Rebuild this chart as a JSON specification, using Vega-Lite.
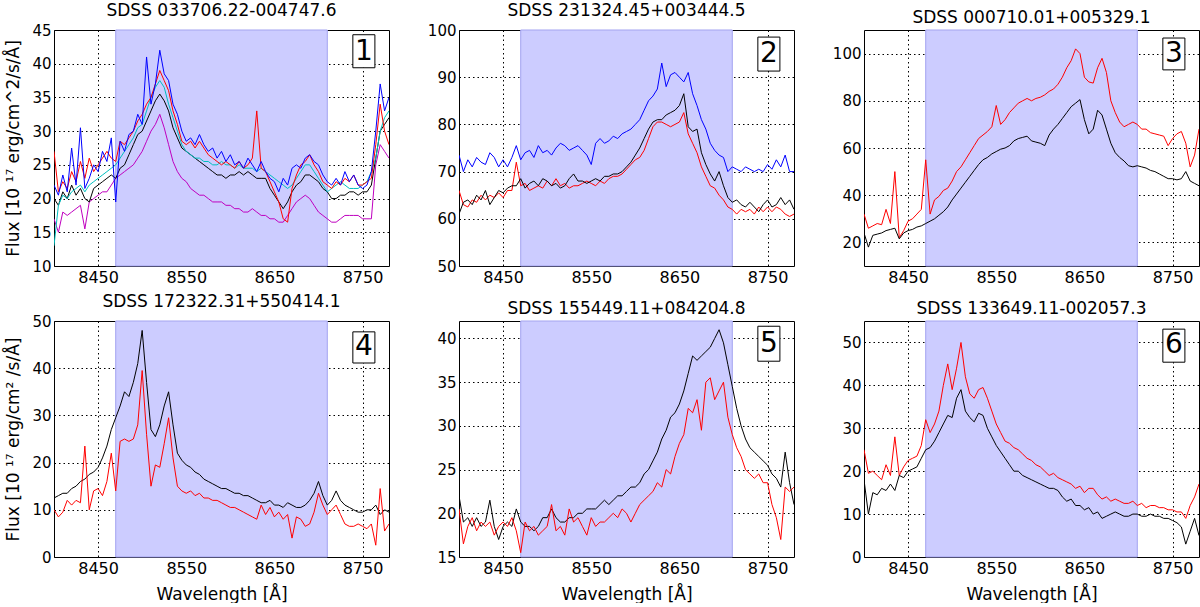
{
  "$schema": "https://vega.github.io/schema/vega-lite/v6.json",
  "description": "Six SDSS spectra around the Ca II triplet region",
  "padding": {"left": 3, "top": 1, "right": 0, "bottom": 0},
  "background": "white",
  "vconcat": [
    {
      "hconcat": [
        {
          "width": 335, "height": 236,
          "title": "SDSS 033706.22-004747.6",
          "layer": [
            {"data": {"values": [{}]}, "mark": {"type": "rect", "fill": "#ccccff", "stroke": "#a3a3f0", "strokeWidth": 1},
             "encoding": {"x": {"datum": 8470, "type": "quantitative", "scale": {"domain": [8400, 8780], "nice": false, "zero": false}, "axis": {"values": [8450, 8550, 8650, 8750], "format": "d", "title": null}}, "x2": {"datum": 8710}}},
            {"data": {"values": [
              {"w":8400,"b":22,"r":27,"k":20,"c":13,"m":17},
              {"w":8405,"b":20.5,"r":21,"k":19,"c":19,"m":15},
              {"w":8410,"b":23.5,"r":22.5,"k":21,"c":20.5,"m":18},
              {"w":8415,"b":21,"r":21.5,"k":20,"c":20,"m":17.5},
              {"w":8420,"b":27.5,"r":24,"k":22,"c":21,"m":18},
              {"w":8425,"b":22,"r":22.5,"k":20.5,"c":21.5,"m":18.5},
              {"w":8430,"b":30.5,"r":25.5,"k":21.5,"c":22,"m":19},
              {"w":8435,"b":21.5,"r":23,"k":20,"c":21,"m":15.5},
              {"w":8440,"b":23,"r":26,"k":19.5,"c":22,"m":19.5},
              {"w":8445,"b":25,"r":24,"k":21.5,"c":22.5,"m":20},
              {"w":8450,"b":24,"r":25,"k":22,"c":23,"m":20.5},
              {"w":8455,"b":27,"r":26,"k":22.5,"c":23.5,"m":21},
              {"w":8460,"b":25.5,"r":27,"k":23,"c":24,"m":21},
              {"w":8465,"b":29,"r":26,"k":23.5,"c":24.5,"m":22},
              {"w":8470,"b":19.5,"r":25.5,"k":23,"c":25,"m":23},
              {"w":8475,"b":28.5,"r":28.5,"k":24.5,"c":26,"m":23.5},
              {"w":8480,"b":27,"r":28,"k":25,"c":27,"m":24},
              {"w":8485,"b":29.5,"r":29,"k":26.5,"c":28,"m":24.5},
              {"w":8490,"b":30,"r":30,"k":28,"c":29,"m":25},
              {"w":8495,"b":32.5,"r":31.5,"k":29.5,"c":30.5,"m":26},
              {"w":8500,"b":31,"r":32.5,"k":30,"c":31,"m":27},
              {"w":8505,"b":41,"r":34,"k":31.5,"c":33,"m":28.5},
              {"w":8510,"b":34,"r":35,"k":33,"c":35,"m":30},
              {"w":8515,"b":37,"r":37,"k":34.5,"c":36.5,"m":31},
              {"w":8520,"b":42,"r":39,"k":35.5,"c":37.5,"m":32.5},
              {"w":8525,"b":38.5,"r":37.5,"k":34.5,"c":36.5,"m":30.5},
              {"w":8530,"b":37.5,"r":36,"k":33,"c":34,"m":28},
              {"w":8535,"b":34,"r":33,"k":30.5,"c":32,"m":25.5},
              {"w":8540,"b":32.5,"r":31,"k":29,"c":30,"m":24},
              {"w":8545,"b":30,"r":28.5,"k":27.5,"c":28,"m":23},
              {"w":8550,"b":28.5,"r":28,"k":27,"c":27,"m":22.5},
              {"w":8555,"b":29,"r":28.5,"k":26.5,"c":26.5,"m":21.5},
              {"w":8560,"b":28,"r":27.5,"k":26,"c":26,"m":21},
              {"w":8565,"b":29.5,"r":28.5,"k":25.5,"c":26,"m":20.5},
              {"w":8570,"b":28,"r":27.5,"k":25,"c":25.5,"m":20.5},
              {"w":8575,"b":27,"r":26.5,"k":24.5,"c":25.5,"m":20},
              {"w":8580,"b":27.5,"r":26,"k":24,"c":25,"m":19.5},
              {"w":8585,"b":26,"r":25.5,"k":23.5,"c":25,"m":19.5},
              {"w":8590,"b":27,"r":25,"k":23.5,"c":25.5,"m":19.5},
              {"w":8595,"b":25.5,"r":25.5,"k":23,"c":25,"m":19},
              {"w":8600,"b":26.5,"r":25,"k":23.5,"c":25,"m":19},
              {"w":8605,"b":25,"r":24.5,"k":23.5,"c":24.5,"m":18.5},
              {"w":8610,"b":25.5,"r":25.5,"k":24,"c":25,"m":18.5},
              {"w":8615,"b":24.5,"r":24.5,"k":23.5,"c":24.5,"m":18},
              {"w":8620,"b":26,"r":25,"k":24,"c":24.5,"m":18},
              {"w":8625,"b":25,"r":26,"k":23.5,"c":24.5,"m":18.5},
              {"w":8630,"b":24,"r":33,"k":23,"c":24,"m":18},
              {"w":8635,"b":25.5,"r":24.5,"k":23,"c":24.5,"m":17.5},
              {"w":8640,"b":24,"r":24,"k":23,"c":24,"m":17.5},
              {"w":8645,"b":23,"r":22.5,"k":21.5,"c":23.5,"m":17},
              {"w":8650,"b":22.5,"r":21,"k":20.5,"c":23,"m":17},
              {"w":8655,"b":21,"r":19.5,"k":19.5,"c":22.5,"m":16.5},
              {"w":8660,"b":23,"r":17,"k":18.5,"c":22,"m":16.5},
              {"w":8665,"b":22,"r":16.5,"k":19.5,"c":21.5,"m":17.5},
              {"w":8670,"b":24.5,"r":21.5,"k":21,"c":22,"m":18.5},
              {"w":8675,"b":25,"r":23.5,"k":22,"c":23,"m":19.5},
              {"w":8680,"b":24.5,"r":25,"k":22.5,"c":24,"m":20},
              {"w":8685,"b":26,"r":25.5,"k":23.5,"c":25,"m":20.5},
              {"w":8690,"b":26.5,"r":26.5,"k":23.5,"c":25,"m":20},
              {"w":8695,"b":25.5,"r":25,"k":23,"c":24,"m":19},
              {"w":8700,"b":25,"r":24,"k":22.5,"c":23,"m":18},
              {"w":8705,"b":23.5,"r":22.5,"k":21.5,"c":22,"m":17.5},
              {"w":8710,"b":22.5,"r":22,"k":21,"c":21,"m":17},
              {"w":8715,"b":22,"r":21.5,"k":20,"c":21.5,"m":16.5},
              {"w":8720,"b":23,"r":22.5,"k":20,"c":22,"m":16.5},
              {"w":8725,"b":22,"r":22,"k":20.5,"c":22.5,"m":17},
              {"w":8730,"b":24,"r":23,"k":20.5,"c":22,"m":17.5},
              {"w":8735,"b":22.5,"r":22.5,"k":21,"c":21.5,"m":17.5},
              {"w":8740,"b":23.5,"r":23.5,"k":21,"c":21.5,"m":17.5},
              {"w":8745,"b":22,"r":22,"k":20.5,"c":21.5,"m":17.5},
              {"w":8750,"b":21.5,"r":22,"k":21,"c":22,"m":17},
              {"w":8755,"b":22,"r":22.5,"k":21,"c":22.5,"m":17},
              {"w":8760,"b":24,"r":23,"k":22,"c":24,"m":17},
              {"w":8765,"b":30,"r":28,"k":26,"c":26,"m":25},
              {"w":8770,"b":37,"r":34,"k":30,"c":30,"m":28},
              {"w":8775,"b":33,"r":30,"k":31,"c":32,"m":27},
              {"w":8780,"b":35,"r":28,"k":32,"c":33,"m":26}
             ]},
             "transform": [{"fold": ["m", "k", "c", "r", "b"], "as": ["s", "f"]}],
             "mark": {"type": "line", "strokeWidth": 1, "clip": true},
             "encoding": {
               "x": {"field": "w", "type": "quantitative", "scale": {"domain": [8400, 8780], "nice": false, "zero": false}, "axis": {"values": [8450, 8550, 8650, 8750], "format": "d", "title": null}},
               "y": {"field": "f", "type": "quantitative", "scale": {"domain": [10, 45], "nice": false, "zero": false}, "axis": {"values": [10, 15, 20, 25, 30, 35, 40, 45], "title": "Flux [10 ¹⁷ erg/cm^2/s/Å]", "minExtent": 22, "maxExtent": 22}},
               "color": {"field": "s", "type": "nominal", "scale": {"domain": ["b", "r", "k", "c", "m"], "range": ["#0000ff", "#ff0000", "#000000", "#00bfbf", "#bf00bf"]}, "legend": null}
             }},
            {"data": {"values": [{}]}, "mark": {"type": "rect", "fill": "white", "stroke": "black", "strokeWidth": 1},
             "encoding": {
               "x": {"datum": 8739, "type": "quantitative", "scale": {"domain": [8400, 8780], "nice": false, "zero": false}, "axis": {"values": [8450, 8550, 8650, 8750], "format": "d", "title": null}}, "x2": {"datum": 8764},
               "y": {"datum": 44.3, "type": "quantitative", "scale": {"domain": [10, 45], "nice": false, "zero": false}, "axis": {"values": [10, 15, 20, 25, 30, 35, 40, 45], "title": "Flux [10 ¹⁷ erg/cm^2/s/Å]", "minExtent": 22, "maxExtent": 22}}, "y2": {"datum": 39.4}}},
            {"data": {"values": [{}]}, "mark": {"type": "text", "fontSize": 28, "align": "center", "baseline": "middle", "color": "black"},
             "encoding": {
               "x": {"datum": 8751.5, "type": "quantitative", "scale": {"domain": [8400, 8780], "nice": false, "zero": false}, "axis": {"values": [8450, 8550, 8650, 8750], "format": "d", "title": null}},
               "y": {"datum": 41.8, "type": "quantitative", "scale": {"domain": [10, 45], "nice": false, "zero": false}, "axis": {"values": [10, 15, 20, 25, 30, 35, 40, 45], "title": "Flux [10 ¹⁷ erg/cm^2/s/Å]", "minExtent": 22, "maxExtent": 22}},
               "text": {"value": "1"}}}
          ]
        },
        {
          "width": 335, "height": 236,
          "title": "SDSS 231324.45+003444.5",
          "layer": [
            {"data": {"values": [{}]}, "mark": {"type": "rect", "fill": "#ccccff", "stroke": "#a3a3f0", "strokeWidth": 1},
             "encoding": {"x": {"datum": 8470, "type": "quantitative", "scale": {"domain": [8400, 8780], "nice": false, "zero": false}, "axis": {"values": [8450, 8550, 8650, 8750], "format": "d", "title": null}}, "x2": {"datum": 8710}}},
            {"data": {"values": [
              {"w":8400,"b":73.5,"k":61,"r":66},
              {"w":8405,"b":70,"k":63.5,"r":63},
              {"w":8410,"b":72.5,"k":64,"r":62.5},
              {"w":8415,"b":71,"k":63,"r":64},
              {"w":8420,"b":73,"k":65,"r":63.5},
              {"w":8425,"b":72,"k":64,"r":65},
              {"w":8430,"b":71.5,"k":66,"r":64},
              {"w":8435,"b":74,"k":63,"r":65},
              {"w":8440,"b":73,"k":64.5,"r":64.5},
              {"w":8445,"b":71,"k":66,"r":65.5},
              {"w":8450,"b":72.5,"k":65.5,"r":64.5},
              {"w":8455,"b":71,"k":66.5,"r":66},
              {"w":8460,"b":73,"k":67,"r":66},
              {"w":8465,"b":75.5,"k":67,"r":72},
              {"w":8470,"b":72.5,"k":68.5,"r":67},
              {"w":8475,"b":74,"k":66.5,"r":67.5},
              {"w":8480,"b":74.5,"k":67.5,"r":66},
              {"w":8485,"b":73,"k":68,"r":66.5},
              {"w":8490,"b":75.5,"k":67,"r":67},
              {"w":8495,"b":74,"k":68.5,"r":66.5},
              {"w":8500,"b":74.5,"k":68,"r":68},
              {"w":8505,"b":73.5,"k":67,"r":67},
              {"w":8510,"b":75,"k":67.5,"r":68.5},
              {"w":8515,"b":76,"k":66.5,"r":67},
              {"w":8520,"b":75.5,"k":67,"r":67.5},
              {"w":8525,"b":74.5,"k":68.5,"r":66.5},
              {"w":8530,"b":75,"k":69.5,"r":67},
              {"w":8535,"b":75.5,"k":68,"r":67},
              {"w":8540,"b":74.5,"k":68,"r":67.5},
              {"w":8545,"b":73.5,"k":67.5,"r":68},
              {"w":8550,"b":71.5,"k":68,"r":67.5},
              {"w":8555,"b":76,"k":68.5,"r":67},
              {"w":8560,"b":77,"k":68,"r":68},
              {"w":8565,"b":76,"k":69,"r":67.5},
              {"w":8570,"b":76.5,"k":69,"r":68.5},
              {"w":8575,"b":77.5,"k":69.5,"r":69},
              {"w":8580,"b":77,"k":69.5,"r":69},
              {"w":8585,"b":78,"k":70,"r":69.5},
              {"w":8590,"b":78.5,"k":71,"r":70.5},
              {"w":8595,"b":79,"k":72,"r":71.5},
              {"w":8600,"b":80,"k":73.5,"r":72.5},
              {"w":8605,"b":81,"k":75,"r":73},
              {"w":8610,"b":83,"k":77,"r":74.5},
              {"w":8615,"b":85,"k":79,"r":77},
              {"w":8620,"b":86,"k":80.5,"r":79.5},
              {"w":8625,"b":87.5,"k":81,"r":80.5},
              {"w":8630,"b":93,"k":81,"r":80.5},
              {"w":8635,"b":88,"k":82,"r":80},
              {"w":8640,"b":90.5,"k":82.5,"r":79.5},
              {"w":8645,"b":91,"k":83,"r":80},
              {"w":8650,"b":90,"k":84,"r":80.5},
              {"w":8655,"b":89,"k":86.5,"r":82.5},
              {"w":8660,"b":91,"k":79.5,"r":78},
              {"w":8665,"b":86.5,"k":78.5,"r":76},
              {"w":8670,"b":84,"k":79,"r":74},
              {"w":8675,"b":81,"k":74,"r":71},
              {"w":8680,"b":79,"k":71.5,"r":69},
              {"w":8685,"b":76,"k":69.5,"r":67},
              {"w":8690,"b":74.5,"k":68,"r":66.5},
              {"w":8695,"b":73.5,"k":70,"r":65},
              {"w":8700,"b":73,"k":67,"r":64},
              {"w":8705,"b":70,"k":64.5,"r":62.5},
              {"w":8710,"b":71,"k":63.5,"r":62},
              {"w":8715,"b":70.5,"k":64,"r":61},
              {"w":8720,"b":70,"k":63,"r":62},
              {"w":8725,"b":71,"k":62.5,"r":61.5},
              {"w":8730,"b":70.5,"k":63.5,"r":62},
              {"w":8735,"b":70,"k":62.5,"r":61},
              {"w":8740,"b":70.5,"k":61.5,"r":62.5},
              {"w":8745,"b":70,"k":63,"r":61.5},
              {"w":8750,"b":71.5,"k":64,"r":62.5},
              {"w":8755,"b":70.5,"k":62.5,"r":61.5},
              {"w":8760,"b":72.5,"k":63,"r":62.5},
              {"w":8765,"b":71,"k":64.5,"r":62},
              {"w":8770,"b":73.5,"k":63,"r":61},
              {"w":8775,"b":70,"k":64,"r":60.5},
              {"w":8780,"b":70,"k":62,"r":61}
             ]},
             "transform": [{"fold": ["b", "r", "k"], "as": ["s", "f"]}],
             "mark": {"type": "line", "strokeWidth": 1, "clip": true},
             "encoding": {
               "x": {"field": "w", "type": "quantitative", "scale": {"domain": [8400, 8780], "nice": false, "zero": false}, "axis": {"values": [8450, 8550, 8650, 8750], "format": "d", "title": null}},
               "y": {"field": "f", "type": "quantitative", "scale": {"domain": [50, 100], "nice": false, "zero": false}, "axis": {"values": [50, 60, 70, 80, 90, 100], "title": null}},
               "color": {"field": "s", "type": "nominal", "scale": {"domain": ["b", "r", "k", "c", "m"], "range": ["#0000ff", "#ff0000", "#000000", "#00bfbf", "#bf00bf"]}, "legend": null}
             }},
            {"data": {"values": [{}]}, "mark": {"type": "rect", "fill": "white", "stroke": "black", "strokeWidth": 1},
             "encoding": {
               "x": {"datum": 8739, "type": "quantitative", "scale": {"domain": [8400, 8780], "nice": false, "zero": false}, "axis": {"values": [8450, 8550, 8650, 8750], "format": "d", "title": null}}, "x2": {"datum": 8764},
               "y": {"datum": 98.5, "type": "quantitative", "scale": {"domain": [50, 100], "nice": false, "zero": false}, "axis": {"values": [50, 60, 70, 80, 90, 100], "title": null}}, "y2": {"datum": 91.3}}},
            {"data": {"values": [{}]}, "mark": {"type": "text", "fontSize": 28, "align": "center", "baseline": "middle", "color": "black"},
             "encoding": {
               "x": {"datum": 8751.5, "type": "quantitative", "scale": {"domain": [8400, 8780], "nice": false, "zero": false}, "axis": {"values": [8450, 8550, 8650, 8750], "format": "d", "title": null}},
               "y": {"datum": 94.9, "type": "quantitative", "scale": {"domain": [50, 100], "nice": false, "zero": false}, "axis": {"values": [50, 60, 70, 80, 90, 100], "title": null}},
               "text": {"value": "2"}}}
          ]
        },
        {
          "width": 335, "height": 236,
          "title": "SDSS 000710.01+005329.1",
          "layer": [
            {"data": {"values": [{}]}, "mark": {"type": "rect", "fill": "#ccccff", "stroke": "#a3a3f0", "strokeWidth": 1},
             "encoding": {"x": {"datum": 8470, "type": "quantitative", "scale": {"domain": [8400, 8780], "nice": false, "zero": false}, "axis": {"values": [8450, 8550, 8650, 8750], "format": "d", "title": null}}, "x2": {"datum": 8710}}},
            {"data": {"values": [
              {"w":8400,"r":32,"k":24},
              {"w":8405,"r":26,"k":18},
              {"w":8410,"r":27,"k":23},
              {"w":8415,"r":28,"k":23.5},
              {"w":8420,"r":27.5,"k":24},
              {"w":8425,"r":34,"k":25},
              {"w":8430,"r":28,"k":25.5},
              {"w":8435,"r":50,"k":26},
              {"w":8440,"r":22,"k":21.5},
              {"w":8445,"r":25,"k":24},
              {"w":8450,"r":29,"k":25},
              {"w":8455,"r":30,"k":25.5},
              {"w":8460,"r":32,"k":26.5},
              {"w":8465,"r":34,"k":27},
              {"w":8470,"r":55,"k":28},
              {"w":8475,"r":32,"k":29},
              {"w":8480,"r":38,"k":30},
              {"w":8485,"r":39.5,"k":31.5},
              {"w":8490,"r":42,"k":33},
              {"w":8495,"r":43,"k":35},
              {"w":8500,"r":46,"k":38},
              {"w":8505,"r":50,"k":40.5},
              {"w":8510,"r":52,"k":43},
              {"w":8515,"r":55,"k":45.5},
              {"w":8520,"r":58,"k":48},
              {"w":8525,"r":61,"k":50.5},
              {"w":8530,"r":64,"k":53},
              {"w":8535,"r":65.5,"k":55},
              {"w":8540,"r":67,"k":56},
              {"w":8545,"r":69,"k":57.5},
              {"w":8550,"r":78,"k":58.5},
              {"w":8555,"r":70,"k":59.5},
              {"w":8560,"r":72,"k":60},
              {"w":8565,"r":75,"k":61},
              {"w":8570,"r":77,"k":63},
              {"w":8575,"r":79,"k":64},
              {"w":8580,"r":80,"k":64.5},
              {"w":8585,"r":81,"k":65},
              {"w":8590,"r":80,"k":63},
              {"w":8595,"r":81,"k":62.5},
              {"w":8600,"r":81.5,"k":62},
              {"w":8605,"r":82.5,"k":61},
              {"w":8610,"r":84,"k":65.5},
              {"w":8615,"r":85,"k":68},
              {"w":8620,"r":87,"k":70},
              {"w":8625,"r":90,"k":72.5},
              {"w":8630,"r":94,"k":75},
              {"w":8635,"r":97,"k":77.5},
              {"w":8640,"r":102,"k":79},
              {"w":8645,"r":100,"k":80.5},
              {"w":8650,"r":90,"k":72},
              {"w":8655,"r":88,"k":66},
              {"w":8660,"r":87.5,"k":68},
              {"w":8665,"r":94,"k":76},
              {"w":8670,"r":98,"k":74},
              {"w":8675,"r":92,"k":68},
              {"w":8680,"r":80,"k":62},
              {"w":8685,"r":75,"k":58},
              {"w":8690,"r":71,"k":56},
              {"w":8695,"r":69,"k":54.5},
              {"w":8700,"r":70,"k":52.5},
              {"w":8705,"r":71,"k":52},
              {"w":8710,"r":70,"k":52.5},
              {"w":8715,"r":68,"k":52},
              {"w":8720,"r":68,"k":51.5},
              {"w":8725,"r":66.5,"k":50.5},
              {"w":8730,"r":66,"k":50},
              {"w":8735,"r":65.5,"k":49},
              {"w":8740,"r":65,"k":48},
              {"w":8745,"r":61,"k":47},
              {"w":8750,"r":64,"k":47},
              {"w":8755,"r":66,"k":46.5},
              {"w":8760,"r":67,"k":47},
              {"w":8765,"r":62,"k":50},
              {"w":8770,"r":52,"k":46},
              {"w":8775,"r":57,"k":45},
              {"w":8780,"r":68,"k":44}
             ]},
             "transform": [{"fold": ["r", "k"], "as": ["s", "f"]}],
             "mark": {"type": "line", "strokeWidth": 1, "clip": true},
             "encoding": {
               "x": {"field": "w", "type": "quantitative", "scale": {"domain": [8400, 8780], "nice": false, "zero": false}, "axis": {"values": [8450, 8550, 8650, 8750], "format": "d", "title": null}},
               "y": {"field": "f", "type": "quantitative", "scale": {"domain": [10, 110], "nice": false, "zero": false}, "axis": {"values": [20, 40, 60, 80, 100], "title": null}},
               "color": {"field": "s", "type": "nominal", "scale": {"domain": ["b", "r", "k", "c", "m"], "range": ["#0000ff", "#ff0000", "#000000", "#00bfbf", "#bf00bf"]}, "legend": null}
             }},
            {"data": {"values": [{}]}, "mark": {"type": "rect", "fill": "white", "stroke": "black", "strokeWidth": 1},
             "encoding": {
               "x": {"datum": 8739, "type": "quantitative", "scale": {"domain": [8400, 8780], "nice": false, "zero": false}, "axis": {"values": [8450, 8550, 8650, 8750], "format": "d", "title": null}}, "x2": {"datum": 8764},
               "y": {"datum": 106.6, "type": "quantitative", "scale": {"domain": [10, 110], "nice": false, "zero": false}, "axis": {"values": [20, 40, 60, 80, 100], "title": null}}, "y2": {"datum": 93.1}}},
            {"data": {"values": [{}]}, "mark": {"type": "text", "fontSize": 28, "align": "center", "baseline": "middle", "color": "black"},
             "encoding": {
               "x": {"datum": 8751.5, "type": "quantitative", "scale": {"domain": [8400, 8780], "nice": false, "zero": false}, "axis": {"values": [8450, 8550, 8650, 8750], "format": "d", "title": null}},
               "y": {"datum": 99.8, "type": "quantitative", "scale": {"domain": [10, 110], "nice": false, "zero": false}, "axis": {"values": [20, 40, 60, 80, 100], "title": null}},
               "text": {"value": "3"}}}
          ]
        }
      ]
    },
    {
      "hconcat": [
        {
          "width": 335, "height": 236,
          "title": "SDSS 172322.31+550414.1",
          "layer": [
            {"data": {"values": [{}]}, "mark": {"type": "rect", "fill": "#ccccff", "stroke": "#a3a3f0", "strokeWidth": 1},
             "encoding": {"x": {"datum": 8470, "type": "quantitative", "scale": {"domain": [8400, 8780], "nice": false, "zero": false}, "axis": {"values": [8450, 8550, 8650, 8750], "format": "d", "title": "Wavelength [Å]"}}, "x2": {"datum": 8710}}},
            {"data": {"values": [
              {"w":8400,"k":12.5,"r":10},
              {"w":8405,"k":13,"r":8.5},
              {"w":8410,"k":13.5,"r":9.5},
              {"w":8415,"k":13.5,"r":12},
              {"w":8420,"k":14.5,"r":11},
              {"w":8425,"k":15,"r":12},
              {"w":8430,"k":16,"r":11.5},
              {"w":8435,"k":16.5,"r":23.5},
              {"w":8440,"k":17.5,"r":10},
              {"w":8445,"k":18,"r":14},
              {"w":8450,"k":19,"r":14.5},
              {"w":8455,"k":21,"r":13},
              {"w":8460,"k":23.5,"r":16},
              {"w":8465,"k":27,"r":22},
              {"w":8470,"k":29.5,"r":14},
              {"w":8475,"k":32,"r":24.5},
              {"w":8480,"k":35,"r":25},
              {"w":8485,"k":34,"r":24.5},
              {"w":8490,"k":37,"r":25},
              {"w":8495,"k":41,"r":28},
              {"w":8500,"k":48,"r":39.5},
              {"w":8505,"k":37,"r":26},
              {"w":8510,"k":27,"r":15},
              {"w":8515,"k":25.5,"r":19.5},
              {"w":8520,"k":28,"r":19},
              {"w":8525,"k":32,"r":24},
              {"w":8530,"k":35,"r":29.5},
              {"w":8535,"k":28,"r":21},
              {"w":8540,"k":22,"r":15},
              {"w":8545,"k":20.5,"r":14},
              {"w":8550,"k":19.5,"r":13.5},
              {"w":8555,"k":19,"r":14},
              {"w":8560,"k":18,"r":13},
              {"w":8565,"k":17.5,"r":13.5},
              {"w":8570,"k":16.5,"r":12.5},
              {"w":8575,"k":16,"r":12.5},
              {"w":8580,"k":15.5,"r":12},
              {"w":8585,"k":15,"r":12},
              {"w":8590,"k":14.5,"r":11.5},
              {"w":8595,"k":14.5,"r":11},
              {"w":8600,"k":14,"r":10.5},
              {"w":8605,"k":13.5,"r":10.5},
              {"w":8610,"k":13.5,"r":10},
              {"w":8615,"k":13,"r":9.5},
              {"w":8620,"k":13,"r":9},
              {"w":8625,"k":12.5,"r":8.5},
              {"w":8630,"k":12,"r":8},
              {"w":8635,"k":11.5,"r":11},
              {"w":8640,"k":11.5,"r":9},
              {"w":8645,"k":12,"r":10.5},
              {"w":8650,"k":11,"r":8.5},
              {"w":8655,"k":11,"r":9.5},
              {"w":8660,"k":10.5,"r":8},
              {"w":8665,"k":11.5,"r":9},
              {"w":8670,"k":11,"r":4},
              {"w":8675,"k":10.5,"r":8.5},
              {"w":8680,"k":10.5,"r":8},
              {"w":8685,"k":11,"r":6.5},
              {"w":8690,"k":12,"r":7},
              {"w":8695,"k":13.5,"r":9.5},
              {"w":8700,"k":16,"r":13.5},
              {"w":8705,"k":13,"r":11},
              {"w":8710,"k":11,"r":9},
              {"w":8715,"k":12,"r":10},
              {"w":8720,"k":14,"r":11},
              {"w":8725,"k":12,"r":9},
              {"w":8730,"k":11,"r":7},
              {"w":8735,"k":10.5,"r":6.5},
              {"w":8740,"k":10,"r":6.5},
              {"w":8745,"k":9.5,"r":7},
              {"w":8750,"k":9.5,"r":6.5},
              {"w":8755,"k":10,"r":6},
              {"w":8760,"k":10,"r":7},
              {"w":8765,"k":11,"r":2.5},
              {"w":8770,"k":9,"r":14.5},
              {"w":8775,"k":10,"r":5.5},
              {"w":8780,"k":9.5,"r":7}
             ]},
             "transform": [{"fold": ["k", "r"], "as": ["s", "f"]}],
             "mark": {"type": "line", "strokeWidth": 1, "clip": true},
             "encoding": {
               "x": {"field": "w", "type": "quantitative", "scale": {"domain": [8400, 8780], "nice": false, "zero": false}, "axis": {"values": [8450, 8550, 8650, 8750], "format": "d", "title": "Wavelength [Å]"}},
               "y": {"field": "f", "type": "quantitative", "scale": {"domain": [0, 50], "nice": false, "zero": false}, "axis": {"values": [0, 10, 20, 30, 40, 50], "title": "Flux [10 ¹⁷ erg/cm² /s/Å]", "minExtent": 22, "maxExtent": 22}},
               "color": {"field": "s", "type": "nominal", "scale": {"domain": ["b", "r", "k", "c", "m"], "range": ["#0000ff", "#ff0000", "#000000", "#00bfbf", "#bf00bf"]}, "legend": null}
             }},
            {"data": {"values": [{}]}, "mark": {"type": "rect", "fill": "white", "stroke": "black", "strokeWidth": 1},
             "encoding": {
               "x": {"datum": 8739, "type": "quantitative", "scale": {"domain": [8400, 8780], "nice": false, "zero": false}, "axis": {"values": [8450, 8550, 8650, 8750], "format": "d", "title": "Wavelength [Å]"}}, "x2": {"datum": 8764},
               "y": {"datum": 47.7, "type": "quantitative", "scale": {"domain": [0, 50], "nice": false, "zero": false}, "axis": {"values": [0, 10, 20, 30, 40, 50], "title": "Flux [10 ¹⁷ erg/cm² /s/Å]", "minExtent": 22, "maxExtent": 22}}, "y2": {"datum": 41.1}}},
            {"data": {"values": [{}]}, "mark": {"type": "text", "fontSize": 28, "align": "center", "baseline": "middle", "color": "black"},
             "encoding": {
               "x": {"datum": 8751.5, "type": "quantitative", "scale": {"domain": [8400, 8780], "nice": false, "zero": false}, "axis": {"values": [8450, 8550, 8650, 8750], "format": "d", "title": "Wavelength [Å]"}},
               "y": {"datum": 44.4, "type": "quantitative", "scale": {"domain": [0, 50], "nice": false, "zero": false}, "axis": {"values": [0, 10, 20, 30, 40, 50], "title": "Flux [10 ¹⁷ erg/cm² /s/Å]", "minExtent": 22, "maxExtent": 22}},
               "text": {"value": "4"}}}
          ]
        },
        {
          "width": 335, "height": 236,
          "title": "SDSS 155449.11+084204.8",
          "layer": [
            {"data": {"values": [{}]}, "mark": {"type": "rect", "fill": "#ccccff", "stroke": "#a3a3f0", "strokeWidth": 1},
             "encoding": {"x": {"datum": 8470, "type": "quantitative", "scale": {"domain": [8400, 8780], "nice": false, "zero": false}, "axis": {"values": [8450, 8550, 8650, 8750], "format": "d", "title": "Wavelength [Å]"}}, "x2": {"datum": 8710}}},
            {"data": {"values": [
              {"w":8400,"k":22,"r":20.5},
              {"w":8405,"k":19,"r":16.5},
              {"w":8410,"k":19.5,"r":18.5},
              {"w":8415,"k":18.5,"r":19.5},
              {"w":8420,"k":19.5,"r":18},
              {"w":8425,"k":18.5,"r":19},
              {"w":8430,"k":19,"r":18.5},
              {"w":8435,"k":21.5,"r":19},
              {"w":8440,"k":18.5,"r":17.5},
              {"w":8445,"k":17,"r":18.5},
              {"w":8450,"k":18.5,"r":19},
              {"w":8455,"k":19,"r":18.5},
              {"w":8460,"k":18.5,"r":19.5},
              {"w":8465,"k":20.5,"r":18},
              {"w":8470,"k":19,"r":15.5},
              {"w":8475,"k":18.5,"r":19},
              {"w":8480,"k":18.5,"r":18},
              {"w":8485,"k":18,"r":18.5},
              {"w":8490,"k":18.5,"r":17.5},
              {"w":8495,"k":19.5,"r":18},
              {"w":8500,"k":19.5,"r":18.5},
              {"w":8505,"k":20.5,"r":21},
              {"w":8510,"k":19.5,"r":18},
              {"w":8515,"k":19,"r":18.5},
              {"w":8520,"k":19,"r":17.5},
              {"w":8525,"k":19.5,"r":20.5},
              {"w":8530,"k":19.5,"r":19},
              {"w":8535,"k":20,"r":19.5},
              {"w":8540,"k":20,"r":18.5},
              {"w":8545,"k":20.5,"r":17.5},
              {"w":8550,"k":20.5,"r":19.5},
              {"w":8555,"k":20.5,"r":18.5},
              {"w":8560,"k":21,"r":19},
              {"w":8565,"k":21.5,"r":19},
              {"w":8570,"k":21,"r":19.5},
              {"w":8575,"k":21.5,"r":20},
              {"w":8580,"k":22,"r":19.5},
              {"w":8585,"k":22,"r":20.5},
              {"w":8590,"k":22.5,"r":20},
              {"w":8595,"k":23,"r":19},
              {"w":8600,"k":23,"r":20},
              {"w":8605,"k":23.5,"r":21},
              {"w":8610,"k":24.5,"r":21.5},
              {"w":8615,"k":25,"r":22},
              {"w":8620,"k":26,"r":22.5},
              {"w":8625,"k":27,"r":23.5},
              {"w":8630,"k":28.5,"r":23},
              {"w":8635,"k":29.5,"r":25},
              {"w":8640,"k":31,"r":24.5},
              {"w":8645,"k":31.5,"r":26.5},
              {"w":8650,"k":32.5,"r":28},
              {"w":8655,"k":34,"r":29},
              {"w":8660,"k":36,"r":32},
              {"w":8665,"k":38,"r":31.5},
              {"w":8670,"k":37.5,"r":33},
              {"w":8675,"k":38,"r":29.5},
              {"w":8680,"k":38.5,"r":35},
              {"w":8685,"k":39,"r":35.5},
              {"w":8690,"k":40,"r":33},
              {"w":8695,"k":41,"r":34},
              {"w":8700,"k":39.5,"r":35},
              {"w":8705,"k":37,"r":31},
              {"w":8710,"k":34.5,"r":29},
              {"w":8715,"k":32,"r":27.5},
              {"w":8720,"k":30,"r":26.5},
              {"w":8725,"k":28.5,"r":25},
              {"w":8730,"k":27.5,"r":24.5},
              {"w":8735,"k":27,"r":24},
              {"w":8740,"k":26.5,"r":24.5},
              {"w":8745,"k":26,"r":23.5},
              {"w":8750,"k":25.5,"r":23.5},
              {"w":8755,"k":24.5,"r":21},
              {"w":8760,"k":24,"r":19.5},
              {"w":8765,"k":23,"r":17},
              {"w":8770,"k":27,"r":23},
              {"w":8775,"k":23.5,"r":22.5},
              {"w":8780,"k":21,"r":23}
             ]},
             "transform": [{"fold": ["k", "r"], "as": ["s", "f"]}],
             "mark": {"type": "line", "strokeWidth": 1, "clip": true},
             "encoding": {
               "x": {"field": "w", "type": "quantitative", "scale": {"domain": [8400, 8780], "nice": false, "zero": false}, "axis": {"values": [8450, 8550, 8650, 8750], "format": "d", "title": "Wavelength [Å]"}},
               "y": {"field": "f", "type": "quantitative", "scale": {"domain": [15, 42], "nice": false, "zero": false}, "axis": {"values": [15, 20, 25, 30, 35, 40], "title": null}},
               "color": {"field": "s", "type": "nominal", "scale": {"domain": ["b", "r", "k", "c", "m"], "range": ["#0000ff", "#ff0000", "#000000", "#00bfbf", "#bf00bf"]}, "legend": null}
             }},
            {"data": {"values": [{}]}, "mark": {"type": "rect", "fill": "white", "stroke": "black", "strokeWidth": 1},
             "encoding": {
               "x": {"datum": 8739, "type": "quantitative", "scale": {"domain": [8400, 8780], "nice": false, "zero": false}, "axis": {"values": [8450, 8550, 8650, 8750], "format": "d", "title": "Wavelength [Å]"}}, "x2": {"datum": 8764},
               "y": {"datum": 41.4, "type": "quantitative", "scale": {"domain": [15, 42], "nice": false, "zero": false}, "axis": {"values": [15, 20, 25, 30, 35, 40], "title": null}}, "y2": {"datum": 37.4}}},
            {"data": {"values": [{}]}, "mark": {"type": "text", "fontSize": 28, "align": "center", "baseline": "middle", "color": "black"},
             "encoding": {
               "x": {"datum": 8751.5, "type": "quantitative", "scale": {"domain": [8400, 8780], "nice": false, "zero": false}, "axis": {"values": [8450, 8550, 8650, 8750], "format": "d", "title": "Wavelength [Å]"}},
               "y": {"datum": 39.4, "type": "quantitative", "scale": {"domain": [15, 42], "nice": false, "zero": false}, "axis": {"values": [15, 20, 25, 30, 35, 40], "title": null}},
               "text": {"value": "5"}}}
          ]
        },
        {
          "width": 335, "height": 236,
          "title": "SDSS 133649.11-002057.3",
          "layer": [
            {"data": {"values": [{}]}, "mark": {"type": "rect", "fill": "#ccccff", "stroke": "#a3a3f0", "strokeWidth": 1},
             "encoding": {"x": {"datum": 8470, "type": "quantitative", "scale": {"domain": [8400, 8780], "nice": false, "zero": false}, "axis": {"values": [8450, 8550, 8650, 8750], "format": "d", "title": "Wavelength [Å]"}}, "x2": {"datum": 8710}}},
            {"data": {"values": [
              {"w":8400,"r":25,"k":18},
              {"w":8405,"r":19.5,"k":10},
              {"w":8410,"r":20,"k":15},
              {"w":8415,"r":19,"k":14.5},
              {"w":8420,"r":18,"k":16},
              {"w":8425,"r":21.5,"k":15.5},
              {"w":8430,"r":19,"k":17},
              {"w":8435,"r":28,"k":15.5},
              {"w":8440,"r":19,"k":19},
              {"w":8445,"r":21,"k":18.5},
              {"w":8450,"r":22.5,"k":20},
              {"w":8455,"r":23,"k":20.5},
              {"w":8460,"r":23.5,"k":21},
              {"w":8465,"r":26,"k":23},
              {"w":8470,"r":32,"k":25},
              {"w":8475,"r":29,"k":25.5},
              {"w":8480,"r":31,"k":27},
              {"w":8485,"r":34,"k":29},
              {"w":8490,"r":40,"k":31},
              {"w":8495,"r":45,"k":33},
              {"w":8500,"r":39,"k":32.5},
              {"w":8505,"r":44,"k":37},
              {"w":8510,"r":50,"k":39},
              {"w":8515,"r":42,"k":34},
              {"w":8520,"r":38,"k":32.5},
              {"w":8525,"r":37,"k":31.5},
              {"w":8530,"r":39,"k":33.5},
              {"w":8535,"r":39.5,"k":33},
              {"w":8540,"r":37,"k":30},
              {"w":8545,"r":34,"k":28},
              {"w":8550,"r":31,"k":26},
              {"w":8555,"r":29,"k":24.5},
              {"w":8560,"r":27,"k":23},
              {"w":8565,"r":26.5,"k":21.5},
              {"w":8570,"r":25.5,"k":20},
              {"w":8575,"r":25,"k":20},
              {"w":8580,"r":24,"k":19},
              {"w":8585,"r":23,"k":18.5},
              {"w":8590,"r":22.5,"k":18},
              {"w":8595,"r":21.5,"k":17.5},
              {"w":8600,"r":21,"k":17},
              {"w":8605,"r":20,"k":16.5},
              {"w":8610,"r":19,"k":16},
              {"w":8615,"r":19.5,"k":16},
              {"w":8620,"r":18.5,"k":15.5},
              {"w":8625,"r":18,"k":14},
              {"w":8630,"r":17.5,"k":13},
              {"w":8635,"r":17,"k":13.5},
              {"w":8640,"r":16,"k":12},
              {"w":8645,"r":16.5,"k":12},
              {"w":8650,"r":15,"k":11},
              {"w":8655,"r":16,"k":11.5},
              {"w":8660,"r":16,"k":10},
              {"w":8665,"r":14.5,"k":10.5},
              {"w":8670,"r":13.5,"k":9},
              {"w":8675,"r":14,"k":9.5},
              {"w":8680,"r":13,"k":10},
              {"w":8685,"r":13.5,"k":10.5},
              {"w":8690,"r":13,"k":10},
              {"w":8695,"r":12.5,"k":9.5},
              {"w":8700,"r":12.5,"k":9.5},
              {"w":8705,"r":13,"k":10},
              {"w":8710,"r":12,"k":10},
              {"w":8715,"r":12.5,"k":9.5},
              {"w":8720,"r":11.5,"k":9.5},
              {"w":8725,"r":12,"k":10},
              {"w":8730,"r":12,"k":9.5},
              {"w":8735,"r":11.5,"k":9.5},
              {"w":8740,"r":11.5,"k":9},
              {"w":8745,"r":11,"k":9},
              {"w":8750,"r":11,"k":8.5},
              {"w":8755,"r":10.5,"k":8},
              {"w":8760,"r":10.5,"k":7},
              {"w":8765,"r":9,"k":3},
              {"w":8770,"r":12,"k":6},
              {"w":8775,"r":14,"k":9},
              {"w":8780,"r":17,"k":5}
             ]},
             "transform": [{"fold": ["r", "k"], "as": ["s", "f"]}],
             "mark": {"type": "line", "strokeWidth": 1, "clip": true},
             "encoding": {
               "x": {"field": "w", "type": "quantitative", "scale": {"domain": [8400, 8780], "nice": false, "zero": false}, "axis": {"values": [8450, 8550, 8650, 8750], "format": "d", "title": "Wavelength [Å]"}},
               "y": {"field": "f", "type": "quantitative", "scale": {"domain": [0, 55], "nice": false, "zero": false}, "axis": {"values": [0, 10, 20, 30, 40, 50], "title": null}},
               "color": {"field": "s", "type": "nominal", "scale": {"domain": ["b", "r", "k", "c", "m"], "range": ["#0000ff", "#ff0000", "#000000", "#00bfbf", "#bf00bf"]}, "legend": null}
             }},
            {"data": {"values": [{}]}, "mark": {"type": "rect", "fill": "white", "stroke": "black", "strokeWidth": 1},
             "encoding": {
               "x": {"datum": 8739, "type": "quantitative", "scale": {"domain": [8400, 8780], "nice": false, "zero": false}, "axis": {"values": [8450, 8550, 8650, 8750], "format": "d", "title": "Wavelength [Å]"}}, "x2": {"datum": 8764},
               "y": {"datum": 53.1, "type": "quantitative", "scale": {"domain": [0, 55], "nice": false, "zero": false}, "axis": {"values": [0, 10, 20, 30, 40, 50], "title": null}}, "y2": {"datum": 45.4}}},
            {"data": {"values": [{}]}, "mark": {"type": "text", "fontSize": 28, "align": "center", "baseline": "middle", "color": "black"},
             "encoding": {
               "x": {"datum": 8751.5, "type": "quantitative", "scale": {"domain": [8400, 8780], "nice": false, "zero": false}, "axis": {"values": [8450, 8550, 8650, 8750], "format": "d", "title": "Wavelength [Å]"}},
               "y": {"datum": 49.3, "type": "quantitative", "scale": {"domain": [0, 55], "nice": false, "zero": false}, "axis": {"values": [0, 10, 20, 30, 40, 50], "title": null}},
               "text": {"value": "6"}}}
          ]
        }
      ],
      "spacing": 35
    }
  ],
  "spacing": 6,
  "config": {
    "font": "DejaVu Sans",
    "view": {"stroke": "black", "strokeWidth": 1},
    "concat": {"spacing": 35},
    "axis": {
      "domain": false, "ticks": false, "grid": true,
      "gridColor": "black", "gridDash": [1.5, 3], "gridOpacity": 1, "gridWidth": 1,
      "labelFont": "DejaVu Sans", "labelColor": "black",
      "titleFont": "DejaVu Sans", "titleFontWeight": "normal", "titleFontSize": 17, "titleColor": "black",
      "zindex": 1
    },
    "axisX": {"labelFontSize": 16, "labelPadding": 3, "titlePadding": 10},
    "axisY": {"labelFontSize": 15, "labelPadding": 3, "minExtent": 33, "maxExtent": 33, "titlePadding": 10},
    "title": {"fontSize": 17, "fontWeight": "normal", "color": "black", "offset": 3, "font": "DejaVu Sans"}
  }
}
